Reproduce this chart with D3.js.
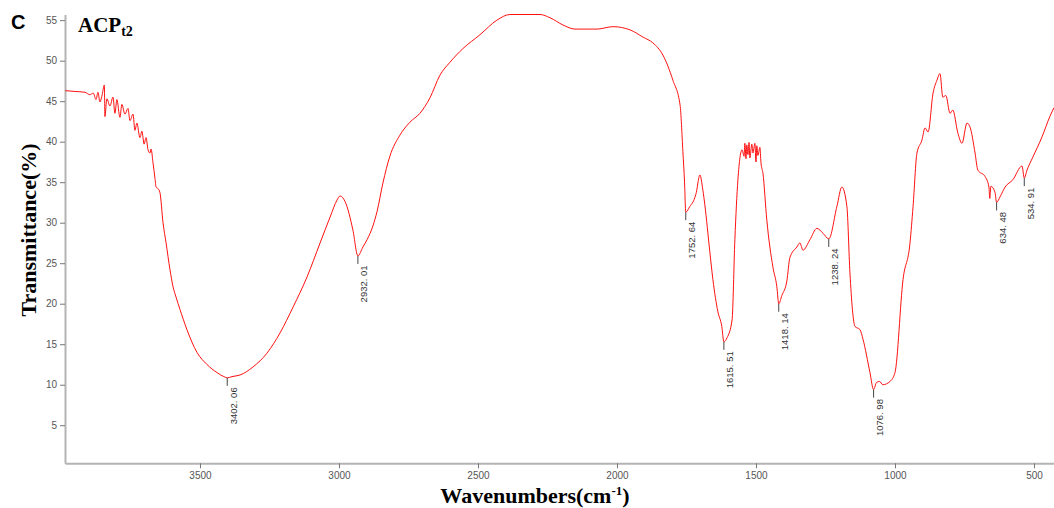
<!DOCTYPE html>
<html>
<head>
<meta charset="utf-8">
<script src="https://cdn.jsdelivr.net/npm/d3@7"></script>
<style>
  html, body { margin: 0; padding: 0; background: #fff; }
  svg { display: block; }
</style>
</head>
<body>
<svg id="chart" width="1054" height="508"></svg>
<script>
// ---- data ----
const wavenumber = [
  3985, 3950, 3914, 3896, 3884, 3874, 3867, 3860, 3853, 3844, 3842, 3835, 3824, 3813, 3806, 3799,
  3788, 3781, 3770, 3759, 3752, 3741, 3734, 3727, 3716, 3709, 3701, 3694, 3687, 3680, 3676, 3669,
  3662, 3658, 3651, 3644, 3633, 3622, 3608, 3597, 3586, 3572, 3547, 3511, 3475, 3439, 3414, 3402,
  3385, 3356, 3309, 3259, 3212, 3165, 3115, 3068, 3032, 3007, 2996, 2978, 2950, 2932, 2914, 2899,
  2878, 2863, 2842, 2817, 2781, 2745, 2709, 2673, 2637, 2601, 2554, 2493, 2432, 2385, 2277, 2241,
  2194, 2151, 2072, 2014, 1953, 1906, 1871, 1835, 1799, 1773, 1763, 1757, 1752.6, 1738, 1720, 1713,
  1709, 1702, 1691, 1684, 1666, 1655, 1637, 1623, 1615.5, 1604, 1586, 1576, 1565, 1550, 1543, 1540,
  1536, 1533, 1529, 1525, 1522, 1515, 1511, 1504, 1500, 1497, 1493, 1486, 1482, 1475, 1461, 1439,
  1425, 1418.1, 1407, 1389, 1378, 1353, 1342, 1331, 1306, 1281, 1259, 1238.2, 1209, 1191, 1173, 1162,
  1144, 1126, 1115, 1090, 1077, 1066, 1055, 1044, 1018, 1000, 971, 946, 935, 921, 903, 892,
  881, 863, 849, 838, 828, 817, 802, 792, 774, 759, 741, 730, 712, 702, 676, 662,
  659, 655, 640, 634.5, 622, 604, 576, 543, 535, 525, 504, 471, 443, 428
];
const transmittance = [
  46.3, 46.2, 46.1, 45.8, 46.0, 45.2, 46.1, 44.9, 45.6, 47.0, 43.1, 45.3, 44.4, 45.5, 43.5, 45.2,
  43.0, 44.6, 43.4, 44.1, 42.6, 43.4, 41.4, 42.3, 40.5, 41.3, 39.7, 40.5, 39.0, 38.6, 39.1, 37.4,
  35.5, 34.4, 34.2, 33.7, 30.0, 27.5, 24.2, 22.1, 20.8, 19.3, 16.8, 14.0, 12.5, 11.5, 11.0, 10.85,
  11.0, 11.2, 12.2, 13.9, 16.4, 19.6, 23.3, 27.5, 30.7, 32.8, 33.3, 32.6, 29.1, 25.9, 27.0, 27.9,
  29.6, 31.4, 34.9, 38.2, 40.8, 42.4, 43.5, 45.4, 48.2, 49.8, 51.5, 53.2, 55.0, 55.7, 55.7, 55.3,
  54.4, 53.9, 53.9, 54.2, 53.8, 52.9, 52.2, 50.7, 47.6, 44.5, 38.8, 35.0, 31.3, 32.0, 33.1, 34.0,
  34.9, 35.9, 34.0, 32.2, 26.4, 23.0, 19.0, 17.2, 15.3, 15.8, 18.0, 27.9, 35.3, 39.0, 38.2, 39.8,
  37.9, 39.6, 38.4, 39.9, 38.0, 39.7, 38.6, 39.8, 37.5, 39.5, 38.3, 39.3, 37.4, 36.1, 30.3, 24.5,
  22.1, 20.0, 21.0, 22.8, 25.7, 27.0, 27.5, 26.6, 27.9, 29.3, 28.7, 28.0, 32.0, 34.4, 32.0, 23.8,
  17.2, 16.8, 15.6, 11.5, 9.4, 10.3, 10.4, 10.0, 10.4, 11.5, 23.0, 27.5, 32.0, 38.6, 40.2, 41.7,
  41.2, 46.0, 47.6, 48.4, 45.5, 45.7, 43.5, 43.9, 41.1, 39.8, 42.3, 41.8, 38.6, 36.5, 35.7, 34.4,
  33.0, 34.5, 33.7, 32.5, 33.2, 34.4, 35.3, 37.0, 35.5, 36.5, 38.1, 40.6, 43.1, 44.2
];
const peakWavenumber = [3402.06, 2932.01, 1752.64, 1615.51, 1418.14, 1238.24, 1076.98, 634.48, 534.91];
const peakTransmittance = [10.85, 25.9, 31.3, 15.3, 20.0, 28.0, 9.4, 32.5, 35.5];
const peakLabel = ["3402. 06", "2932. 01", "1752. 64", "1615. 51", "1418. 14", "1238. 24", "1076. 98", "634. 48", "534. 91"];
const xMajorTicks = [3500, 3000, 2500, 2000, 1500, 1000, 500];
const yMajorTicks = [5, 10, 15, 20, 25, 30, 35, 40, 45, 50, 55];
const xDomain = [3985.6, 428];
const yDomain = [0.3, 55.7];

// ---- chart ----
const svg = d3.select("#chart");
const plotLeft = 65, plotRight = 1054, plotTop = 14.5, plotBottom = 463.3;

const x = d3.scaleLinear().domain(xDomain).range([plotLeft, plotRight]);
const y = d3.scaleLinear().domain(yDomain).range([plotBottom, plotTop]);

const axisColor = "#b4b4b4";
const tickColor = "#777";
const labelColor = "#555";

// minor ticks
const xMinor = d3.range(3900, 400, -100).filter(v => v % 500 !== 0);
const yMinor = d3.range(1, 56).filter(v => v % 5 !== 0);

const gx = svg.append("g").attr("transform", `translate(0,${plotBottom})`);
gx.call(d3.axisBottom(x).tickValues(xMinor).tickSize(3).tickFormat(""))
  .call(g => g.select(".domain").remove());
gx.call(d3.axisBottom(x).tickValues(xMajorTicks).tickSize(5).tickSizeOuter(0).tickPadding(4).tickFormat(d3.format("d")));
gx.selectAll(".tick line").attr("stroke", tickColor);
gx.selectAll(".domain").attr("stroke", axisColor).attr("stroke-width", 2);
gx.selectAll("text").attr("fill", labelColor).attr("font-family", "Liberation Sans, Arial, sans-serif").attr("font-size", 10);

const gy = svg.append("g").attr("transform", `translate(${plotLeft},0)`);
gy.call(d3.axisLeft(y).tickValues(yMinor).tickSize(3).tickFormat(""))
  .call(g => g.select(".domain").remove());
gy.call(d3.axisLeft(y).tickValues(yMajorTicks).tickSize(5).tickSizeOuter(0).tickPadding(3).tickFormat(d3.format("d")));
gy.selectAll(".tick line").attr("stroke", tickColor);
gy.selectAll(".domain").attr("stroke", axisColor).attr("stroke-width", 2);
gy.selectAll("text").attr("fill", labelColor).attr("font-family", "Liberation Sans, Arial, sans-serif").attr("font-size", 10);

// spectrum
const pts = wavenumber.map((w, i) => [w, transmittance[i]]);
const line = d3.line().x(d => x(d[0])).y(d => y(d[1])).curve(d3.curveMonotoneX);
svg.append("path").datum(pts)
  .attr("d", line)
  .attr("fill", "none")
  .attr("stroke", "#ff1010")
  .attr("stroke-width", 1);

// peak markers
const tickLen = 8;
const peaks = peakWavenumber.map((w, i) => ({ w, t: peakTransmittance[i], label: peakLabel[i] }));
const pg = svg.append("g");
pg.selectAll("line").data(peaks).join("line")
  .attr("x1", d => x(d.w)).attr("x2", d => x(d.w))
  .attr("y1", d => y(d.t)).attr("y2", d => y(d.t) + tickLen)
  .attr("stroke", "#444").attr("stroke-width", 1);
pg.selectAll("text").data(peaks).join("text")
  .attr("transform", d => `translate(${x(d.w) + 9.5},${y(d.t) + tickLen + 1.5}) rotate(-90)`)
  .attr("text-anchor", "end")
  .attr("font-family", "Liberation Sans, Arial, sans-serif")
  .attr("font-size", 9.5)
  .attr("fill", "#333")
  .text(d => d.label);

// titles
svg.append("text")
  .attr("transform", `translate(36,230) rotate(-90)`)
  .attr("text-anchor", "middle")
  .attr("font-family", "Liberation Serif, Times New Roman, serif")
  .attr("font-weight", "bold")
  .attr("font-size", 22)
  .attr("fill", "#000")
  .text("Transmittance(%)");

const xt = svg.append("text")
  .attr("x", 535).attr("y", 503)
  .attr("text-anchor", "middle")
  .attr("font-family", "Liberation Serif, Times New Roman, serif")
  .attr("font-weight", "bold")
  .attr("font-size", 22)
  .attr("fill", "#000");
xt.append("tspan").text("Wavenumbers(cm");
xt.append("tspan").attr("dy", -8).attr("font-size", 13).text("-1");
xt.append("tspan").attr("dy", 8).text(")");

svg.append("text")
  .attr("x", 11).attr("y", 29)
  .attr("font-family", "Liberation Sans, Arial, sans-serif")
  .attr("font-weight", "bold")
  .attr("font-size", 20)
  .attr("fill", "#000")
  .text("C");

const st = svg.append("text")
  .attr("x", 78).attr("y", 32)
  .attr("font-family", "Liberation Serif, Times New Roman, serif")
  .attr("font-weight", "bold")
  .attr("font-size", 21)
  .attr("fill", "#000");
st.append("tspan").text("ACP");
st.append("tspan").attr("dy", 4).attr("font-size", 14).text("t2");
</script>
</body>
</html>
